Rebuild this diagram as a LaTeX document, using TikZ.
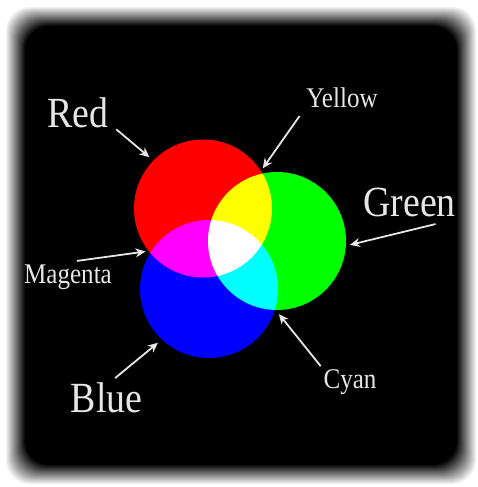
\documentclass[tikz,border=0pt]{standalone}
\usepackage{fontspec}
\setmainfont{Liberation Serif}[FakeStretch=0.88]
\usepackage{xcolor}
\usetikzlibrary{arrows.meta}
\definecolor{labelgray}{HTML}{E6E6E6}
\definecolor{rgbred}{HTML}{FF0000}
\definecolor{rgbgreen}{HTML}{00FF00}
\definecolor{rgbblue}{HTML}{0000FF}

\begin{document}
\begin{tikzpicture}[x=1pt, y=-1pt,
  lightcircle/.style={circle, inner sep=0pt, minimum size=138pt},
  biglabel/.style={text=labelgray, inner sep=2pt, anchor=base, font=\fontsize{43}{48}\selectfont},
  smalllabel/.style={text=labelgray, inner sep=2pt, anchor=base, font=\fontsize{28.5}{32}\selectfont},
  pointer/.style={-{Stealth[length=10pt, width=9pt]}, labelgray, line width=1.8pt}]
  \useasboundingbox (0,0) rectangle (478,487);
  \fill[white] (0,0) rectangle (478,487);
  \foreach \k [evaluate=\k as \p using int(5*\k)] in {0,...,20}
    \fill[black!\p, rounded corners=24pt] (5+\k,6+\k) rectangle (477-\k,485-\k);

  \begin{scope}[blend mode=screen]
    \node[lightcircle, fill=rgbred] (cred) at (203,208.5) {};
    \node[lightcircle, fill=rgbgreen] (cgreen) at (277,241) {};
    \node[lightcircle, fill=rgbblue] (cblue) at (209,289) {};
  \end{scope}

  \node[biglabel] (lred) at (77.5,127) {Red};
  \node[smalllabel] (lyellow) at (342,107) {Yellow};
  \node[biglabel] (lgreen) at (409.5,216) {Green};
  \node[smalllabel] (lmagenta) at (68,283) {Magenta};
  \node[biglabel] (lblue) at (106.5,412) {Blue};
  \node[smalllabel] (lcyan) at (350,388) {Cyan};

  \draw[pointer, shorten <=8pt, shorten >=5pt] (lred.-20) -- (cred.136);
  \draw[pointer, shorten <=8pt, shorten >=3pt] (lyellow.south west) -- (cred.33);
  \draw[pointer, shorten <=23pt, shorten >=4pt] (lgreen.south east) -- (cgreen.-4);
  \draw[pointer, shorten <=9pt, shorten >=3pt] (lmagenta.north) -- (cred.218);
  \draw[pointer, shorten <=3pt, shorten >=5pt] (lblue.70) -- (cblue.227);
  \draw[pointer, shorten <=1pt, shorten >=5pt] (lcyan.north west) -- (cgreen.269);
\end{tikzpicture}
\end{document}
